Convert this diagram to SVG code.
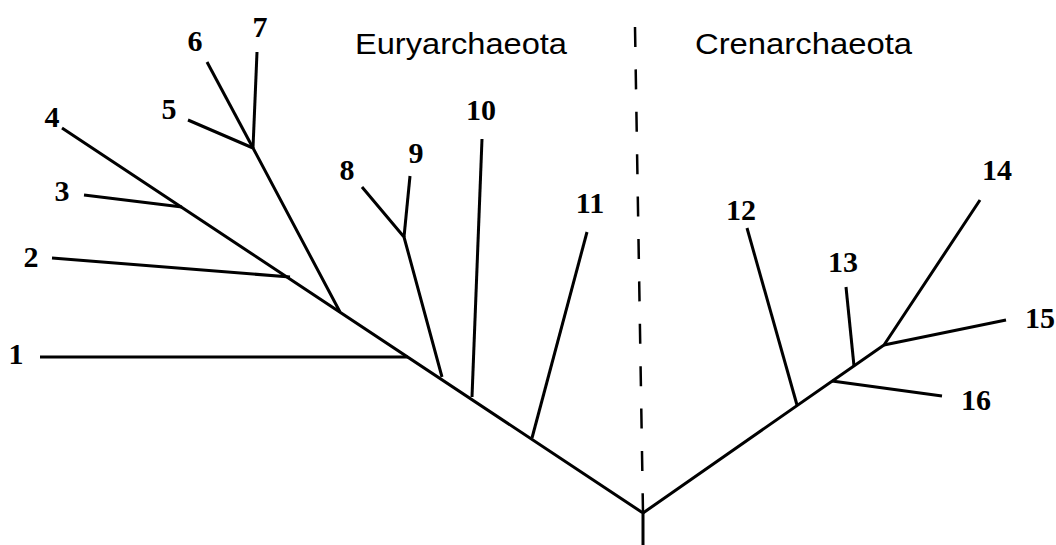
<svg xmlns="http://www.w3.org/2000/svg" width="1056" height="545" viewBox="0 0 1056 545">
<style>
.br{stroke:#000;stroke-width:3;fill:none;stroke-linecap:butt;stroke-linejoin:round}
.dash{stroke:#000;stroke-width:2.5;fill:none;stroke-dasharray:20 22.4}
.num{font-family:"Liberation Serif","Times New Roman",serif;font-weight:bold;font-size:30px;fill:#000;text-anchor:middle}
.grp{font-family:"Liberation Sans",Arial,sans-serif;font-size:30px;fill:#000}
</style>
<rect width="1056" height="545" fill="#fff"/>
<g id="connectors">
<line class="dash" x1="635" y1="27" x2="643" y2="513"/>
<path class="br" d="M643,545 L643,513 L62,128"/>
<path class="br" d="M643,513 L884,345 L980,200"/>
<line class="br" x1="182" y1="207" x2="84" y2="195"/>
<line class="br" x1="290" y1="277" x2="52" y2="258"/>
<line class="br" x1="408" y1="357" x2="40" y2="357"/>
<path class="br" d="M340,312 L253,148 L188,120"/>
<line class="br" x1="253" y1="148" x2="207" y2="62"/>
<line class="br" x1="253" y1="148" x2="257" y2="52"/>
<path class="br" d="M442,377 L404,237 L362,187"/>
<line class="br" x1="404" y1="237" x2="410" y2="176"/>
<line class="br" x1="472" y1="397" x2="482" y2="139"/>
<line class="br" x1="532" y1="438" x2="587" y2="232"/>
<line class="br" x1="797" y1="405" x2="747" y2="228"/>
<line class="br" x1="832" y1="381" x2="942" y2="396"/>
<line class="br" x1="854" y1="366" x2="846" y2="287"/>
<line class="br" x1="884" y1="345" x2="1006" y2="320"/>
</g>
<g id="node-1"><text class="num" x="16" y="364">1</text></g>
<g id="node-2"><text class="num" x="31" y="267">2</text></g>
<g id="node-3"><text class="num" x="62" y="201">3</text></g>
<g id="node-4"><text class="num" x="52" y="127">4</text></g>
<g id="node-5"><text class="num" x="169" y="119">5</text></g>
<g id="node-6"><text class="num" x="195" y="51">6</text></g>
<g id="node-7"><text class="num" x="260" y="37">7</text></g>
<g id="node-8"><text class="num" x="347" y="180">8</text></g>
<g id="node-9"><text class="num" x="416" y="163">9</text></g>
<g id="node-10"><text class="num" x="481" y="120">10</text></g>
<g id="node-11"><text class="num" x="590" y="213">11</text></g>
<g id="node-12"><text class="num" x="741" y="220">12</text></g>
<g id="node-13"><text class="num" x="843" y="272">13</text></g>
<g id="node-14"><text class="num" x="997" y="180">14</text></g>
<g id="node-15"><text class="num" x="1040" y="328">15</text></g>
<g id="node-16"><text class="num" x="976" y="410">16</text></g>
<g id="label-eury"><text class="grp" x="355" y="54" textLength="212" lengthAdjust="spacingAndGlyphs">Euryarchaeota</text></g>
<g id="label-cren"><text class="grp" x="695" y="54" textLength="217" lengthAdjust="spacingAndGlyphs">Crenarchaeota</text></g>
</svg>
